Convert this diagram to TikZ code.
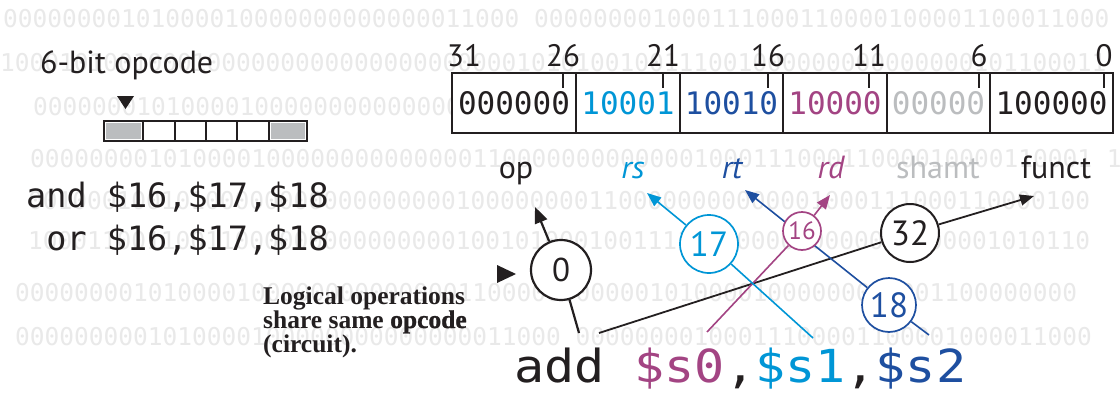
\documentclass[tikz,border=0pt]{standalone}
\usepackage{fontspec}
\usetikzlibrary{arrows.meta}
\setmainfont{PT Sans}
\newfontfamily\sansf{PT Sans}
\newfontfamily\monof{DejaVu Sans Mono}
\newfontfamily\monow{DejaVu Sans Mono}[FakeStretch=1.1]
\newfontfamily\seriff{Liberation Serif}
\newfontfamily\serifx{Liberation Serif}[BoldFeatures={FakeBold=1.2}]
\definecolor{ink}{HTML}{231F20}
\definecolor{bgc}{HTML}{E9E9E9}
\definecolor{lb}{HTML}{0096D6}
\definecolor{db}{HTML}{1E4FA0}
\definecolor{mg}{HTML}{A34483}
\definecolor{gy}{HTML}{BBBDBF}
\pgfdeclarelayer{bgl}
\pgfdeclarelayer{lines}
\pgfsetlayers{bgl,lines,main}
\begin{document}
\begin{tikzpicture}[x=1pt,y=-1pt,
  bgdig/.style={inner sep=0pt, anchor=base west, text=bgc, font=\monof\fontsize{24.5}{26}\selectfont},
  fieldbox/.style={draw=ink, line width=1.2pt, fill=white, minimum height=60pt, inner sep=0pt, font=\monof\fontsize{31}{31}\selectfont},
  bitlab/.style={inner sep=0pt, anchor=base, text=ink, font=\sansf\fontsize{31}{31}\selectfont},
  fldlab/.style={inner sep=0pt, anchor=base, font=\sansf\fontsize{32}{32}\selectfont},
  numcirc/.style={circle, fill=white, inner sep=0pt, line width=1.7pt, font=\sansf\fontsize{35}{35}\selectfont},
  arr/.style={line width=1.6pt, -{Triangle[length=14pt,width=11pt]}},
  tick/.style={draw=ink, line width=1.2pt},
  cellbox/.style={draw=ink, line width=1.2pt},
  codeline/.style={inner sep=0pt, anchor=base west, text=ink, font=\monof\fontsize{33.5}{33.5}\selectfont}
]
\useasboundingbox (0,0) rectangle (1120,394);
\begin{pgfonlayer}{bgl}
\fill[white] (0,0) rectangle (1120,394);
\node[bgdig] (r1) at (3,27)  {00000000101000010000000000000011000 000000001000111000110000100001100011000};
\node[bgdig] (r2) at (0,71)  {100010100100010000000000000000000001010100100111001000000000000000101100011};
\node[bgdig] (r3) at (33,115) {00000001010000100000000000000110000000000010001110001100001000011000110};
\node[bgdig] (r4) at (30,167) {000000001010000100000000000000110000000000000100011100011000010000110001 1};
\node[bgdig] (r5) at (28,209) {001000100101000000000000000001000000001100000000000001000111000110000100};
\node[bgdig] (r6) at (28,249) {100011001100110000000000000001001010001001111000000000000000000001010110};
\node[bgdig] (r7) at (15,301) {000000001010000100000000000000110000000000010100001000000000001100000000};
\node[bgdig] (r8) at (15,345) {0000000001010000100000000000000011000 00000000100011100001100001000011000};
\end{pgfonlayer}

% left part
\node[inner sep=0pt, anchor=base west, text=ink, font=\sansf\fontsize{32}{32}\selectfont] (title) at (40,73) {6-bit opcode};
\fill[ink] (117,96) -- (134,96) -- (125.5,109) -- cycle;
\fill[gy] (106,123) rectangle (141,139);
\fill[gy] (271,123) rectangle (305,139);
\foreach \a/\b in {104/143,143/175,175/206,206/237,237/269,269/307}
  \draw[cellbox] (\a,121) rectangle (\b,141);
\node[codeline] (andl) at (26,207) {and \$16,\$17,\$18};
\node[codeline] (orl) at (46.2,250) {or \$16,\$17,\$18};
\fill[ink] (497,265) -- (497,283) -- (516,274) -- cycle;
\node[inner sep=0pt, anchor=base west, align=left, text=ink, font=\seriff\bfseries\fontsize{25.5}{24}\selectfont] (note) at (263,352)
  {Logical operations\\share same {\serifx\bfseries opcode}\\(circuit).};

% field box
\node[fieldbox, minimum width=124pt, text=ink] (fop) at (514,103) {000000};
\node[fieldbox, minimum width=104pt, text=lb] (frs) at (628,103) {10001};
\node[fieldbox, minimum width=103pt, text=db] (frt) at (731.5,103) {10010};
\node[fieldbox, minimum width=104pt, text=mg] (frd) at (835,103) {10000};
\node[fieldbox, minimum width=103pt, text=gy] (fsh) at (938.5,103) {00000};
\node[fieldbox, minimum width=123pt, text=ink] (ffn) at (1051.5,103) {100000};

\node[bitlab] (b31) at (464,66) {31};
\node[bitlab] (b26) at (563,66) {26};
\node[bitlab] (b21) at (663,66) {21};
\node[bitlab] (b16) at (768,66) {16};
\node[bitlab] (b11) at (869,66) {11};
\node[bitlab] (b6) at (979,66) {6};
\node[bitlab] (b0) at (1104,66) {0};
\foreach \b in {b26,b21,b16,b11,b6,b0}
  \draw[tick] (\b |- fop.north) -- ++(0,16);

% field labels
\node[fldlab, text=ink] (lop) at (516,178) {op};
\node[fldlab, text=lb] (lrs) at (633,178) {\itshape rs};
\node[fldlab, text=db] (lrt) at (732,178) {\itshape rt};
\node[fldlab, text=mg] (lrd) at (831,178) {\itshape rd};
\node[fldlab, text=gy] (lsh) at (938,178) {shamt};
\node[fldlab, text=ink] (lfn) at (1056,178) {funct};

% instruction
\node[inner sep=0pt, anchor=base west, text=ink, font=\monow\fontsize{45.5}{45.5}\selectfont] (add) at (514,382)
  {add \textcolor{mg}{\$s0},\textcolor{lb}{\$s1},\textcolor{db}{\$s2}};

% circles
\node[numcirc, draw=ink, text=ink, minimum size=60pt, line width=2.2pt, font=\sansf\fontsize{33}{33}\selectfont] (c0) at (561,270) {0};
\node[numcirc, draw=lb, text=lb, minimum size=58pt] (c17) at (709,244) {17};
\node[numcirc, draw=mg, text=mg, minimum size=38pt, font=\sansf\fontsize{25}{25}\selectfont] (c16) at (802,231) {16};
\node[numcirc, draw=ink, text=ink, minimum size=58pt, line width=2pt] (c32) at (910,233) {32};
\node[numcirc, draw=db, text=db, minimum size=54pt] (c18) at (889,305) {18};

% connector ends
\coordinate (aop) at (579,333);
\coordinate (afn) at (599,333);
\coordinate (es0) at (707,332);
\coordinate (es1) at (813,338);
\coordinate (es2) at (929,335);
\coordinate (top) at (535,207);
\coordinate (trs) at (647,193);
\coordinate (trt) at (745,190);
\coordinate (trd) at (830,195);
\coordinate (tfn) at (1034,196);

\begin{pgfonlayer}{lines}
\draw[ink, line width=2.2pt, -{Triangle[length=16pt,width=13pt]}] (aop) -- (c0) -- (top);
\draw[arr, ink, line width=1.8pt] (afn) -- (c32) -- (tfn);
\draw[arr, mg] (es0) -- (c16) -- (trd);
\draw[arr, lb] (es1) -- (c17) -- (trs);
\draw[arr, db] (es2) -- (c18) -- (trt);
\end{pgfonlayer}
\end{tikzpicture}
\end{document}
